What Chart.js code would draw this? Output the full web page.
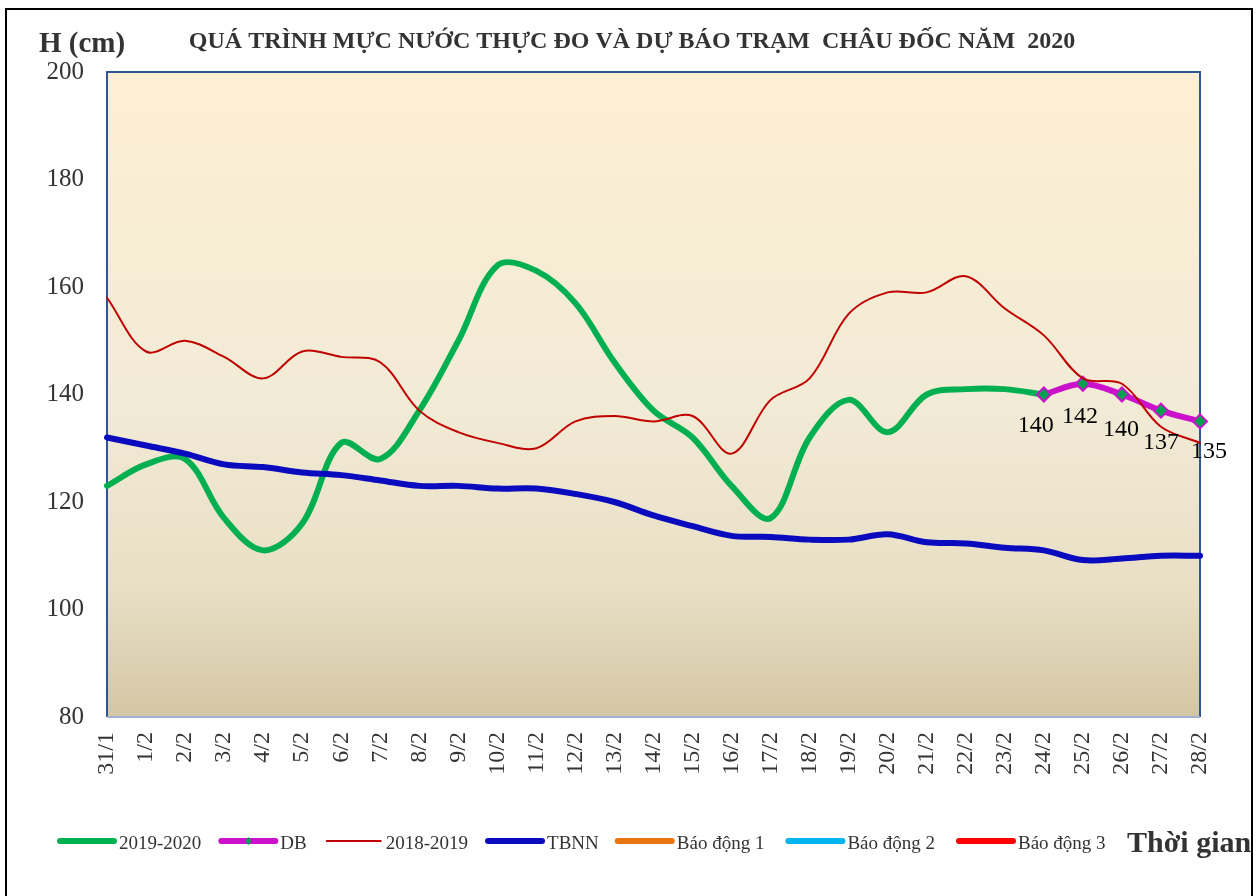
<!DOCTYPE html>
<html><head><meta charset="utf-8">
<script src="https://cdn.jsdelivr.net/npm/chart.js@4.4.0/dist/chart.umd.min.js"></script>
<style>html,body{margin:0;padding:0;background:#fff;}#wrap{width:1259px;height:896px;}</style>
</head><body><div id="wrap"><canvas id="c" width="1259" height="896"></canvas></div>
<script>
const categories = ['31/1','1/2','2/2','3/2','4/2','5/2','6/2','7/2','8/2','9/2','10/2','11/2','12/2','13/2','14/2','15/2','16/2','17/2','18/2','19/2','20/2','21/2','22/2','23/2','24/2','25/2','26/2','27/2','28/2'];
const obs2020 = [123,127,128,117,111,116,131,128,137,150,164,163,157,146,137,132,123,117,132,139,133,140,141,141,140,null,null,null,null];
const forecastDB = [null,null,null,null,null,null,null,null,null,null,null,null,null,null,null,null,null,null,null,null,null,null,null,null,140,142,140,137,135];
const obs2019 = [158,148,150,147,143,148,147,146,137,133,131,130,135,136,135,136,129,139,143,155,159,159,162,156,151,143,142,134,131];
const tbnn = [132,130.5,129,127,126.5,125.5,125,124,123,123,122.5,122.5,121.5,120,117.5,115.5,113.7,113.5,113,113,114,112.5,112.3,111.5,111,109.2,109.5,110,110];
const alarm1 = [];
const alarm2 = [];
const alarm3 = [];
const yTicks = [80,100,120,140,160,180,200];
const seriesNames = ['2019-2020','DB','2018-2019','TBNN','Báo động 1','Báo động 2','Báo động 3'];
const titleText = 'QUÁ TRÌNH MỰC NƯỚC THỰC ĐO VÀ DỰ BÁO TRẠM  CHÂU ĐỐC NĂM  2020';
const yAxisTitle = 'H (cm)';
const xAxisTitle = 'Thời gian';
const dbLabelNudge = [[-8,31],[-3,33],[-1,35],[0,32],[9,30]];
const legendGaps = [20, 20, 20, 19, 24, 24, 0];

const SERIF = '"Liberation Serif", "Times New Roman", serif';

const extras = {
  id: 'extras',
  beforeDraw(chart) {
    const {ctx, chartArea: a} = chart;
    ctx.save();
    ctx.fillStyle = '#fff';
    ctx.fillRect(0, 0, chart.width, chart.height);
    const g = ctx.createLinearGradient(0, a.top, 0, a.bottom);
    g.addColorStop(0, '#FDEFD3');
    g.addColorStop(0.5, '#F2EBD6');
    g.addColorStop(0.8, '#E8DFC5');
    g.addColorStop(1, '#D3C6A4');
    ctx.fillStyle = g;
    ctx.fillRect(a.left, a.top, a.right - a.left, a.bottom - a.top);
    ctx.restore();
  },
  beforeDatasetsDraw(chart) {
    const {ctx, chartArea: a} = chart;
    ctx.save();
    ctx.lineWidth = 2;
    ctx.strokeStyle = '#2F5597';
    ctx.beginPath();
    ctx.moveTo(a.left, a.bottom); ctx.lineTo(a.left, a.top); ctx.lineTo(a.right, a.top); ctx.lineTo(a.right, a.bottom);
    ctx.stroke();
    ctx.strokeStyle = '#9FB1CE';
    ctx.beginPath();
    ctx.moveTo(a.left, a.bottom); ctx.lineTo(a.right, a.bottom);
    ctx.stroke();
    ctx.restore();
  },
  afterDraw(chart) {
    const {ctx} = chart;
    ctx.save();
    ctx.strokeStyle = '#000';
    ctx.lineWidth = 2;
    ctx.strokeRect(6, 9, 1246, 900);
    ctx.fillStyle = '#333';
    ctx.textBaseline = 'alphabetic';
    ctx.font = 'bold 24px ' + SERIF;
    ctx.textAlign = 'center';
    ctx.fillText(titleText, 632, 48);
    ctx.textAlign = 'left';
    ctx.font = 'bold 29px ' + SERIF;
    ctx.fillText(yAxisTitle, 39, 52);
    const meta = chart.getDatasetMeta(1);
    ctx.font = '24px ' + SERIF;
    ctx.fillStyle = '#000';
    ctx.textAlign = 'center';
    ctx.textBaseline = 'middle';
    let k = 0;
    meta.data.forEach((pt, i) => {
      const v = forecastDB[i];
      if (v === null || v === undefined) return;
      const n = dbLabelNudge[k] || [0, 32];
      ctx.fillText(String(v), pt.x + n[0], pt.y + n[1]);
      k++;
    });
    let x = 60;
    const ly = 841;
    ctx.font = '19px ' + SERIF;
    ctx.textAlign = 'left';
    ctx.textBaseline = 'alphabetic';
    chart.data.datasets.forEach((ds, i) => {
      ctx.strokeStyle = ds.borderColor;
      ctx.lineWidth = i === 2 ? 2 : 6;
      ctx.lineCap = 'round';
      ctx.beginPath();
      ctx.moveTo(x, ly); ctx.lineTo(x + 54, ly);
      ctx.stroke();
      if (i === 1) {
        ctx.fillStyle = ds.pointBackgroundColor;
        ctx.beginPath();
        const cx = x + 27;
        ctx.moveTo(cx, ly - 4); ctx.lineTo(cx + 3, ly); ctx.lineTo(cx, ly + 4); ctx.lineTo(cx - 3, ly);
        ctx.closePath(); ctx.fill();
      }
      ctx.fillStyle = '#333';
      ctx.fillText(ds.label, x + 59, 849);
      x += 59 + ctx.measureText(ds.label).width + legendGaps[i];
    });
    ctx.font = 'bold 30px ' + SERIF;
    ctx.fillStyle = '#333';
    ctx.fillText(xAxisTitle, 1127, 852);
    ctx.restore();
  }
};

const lineBase = {fill: false, pointRadius: 0, tension: 0.35, spanGaps: false, borderCapStyle: 'round', borderJoinStyle: 'round'};

new Chart(document.getElementById('c'), {
  type: 'line',
  data: {
    labels: categories,
    datasets: [
      Object.assign({}, lineBase, {label: seriesNames[0], data: obs2020, borderColor: '#00B050', borderWidth: 6, order: 7}),
      Object.assign({}, lineBase, {label: seriesNames[1], data: forecastDB, borderColor: '#CC11CC', borderWidth: 6, order: 6,
        pointRadius: 7, pointStyle: 'rectRot', pointBackgroundColor: '#00A050', pointBorderColor: '#CC11CC', pointBorderWidth: 2}),
      Object.assign({}, lineBase, {label: seriesNames[2], data: obs2019, borderColor: '#C00000', borderWidth: 2, order: 5}),
      Object.assign({}, lineBase, {label: seriesNames[3], data: tbnn, borderColor: '#0A0ABE', borderWidth: 6, order: 4}),
      Object.assign({}, lineBase, {label: seriesNames[4], data: alarm1, borderColor: '#E87511', borderWidth: 6, order: 3}),
      Object.assign({}, lineBase, {label: seriesNames[5], data: alarm2, borderColor: '#00B4F0', borderWidth: 6, order: 2}),
      Object.assign({}, lineBase, {label: seriesNames[6], data: alarm3, borderColor: '#FF0000', borderWidth: 6, order: 1})
    ]
  },
  options: {
    responsive: false,
    animation: false,
    events: [],
    layout: {padding: {top: 72, right: 59, left: 0, bottom: 0}},
    plugins: {legend: {display: false}, title: {display: false}, tooltip: {enabled: false}},
    scales: {
      x: {
        offset: false,
        grid: {display: false, drawTicks: false},
        border: {display: false},
        ticks: {autoSkip: false, maxRotation: 90, minRotation: 90, padding: 15, color: '#333', font: {family: SERIF, size: 24}},
        afterFit(s) { s.height = 179; }
      },
      y: {
        min: 80, max: 200,
        grid: {display: false, drawTicks: false},
        border: {display: false},
        ticks: {padding: 23, color: '#333', font: {family: SERIF, size: 25}},
        afterBuildTicks(s) { s.ticks = yTicks.map(v => ({value: v})); },
        afterFit(s) { s.width = 107; }
      }
    }
  },
  plugins: [extras]
});
</script>
</body></html>
